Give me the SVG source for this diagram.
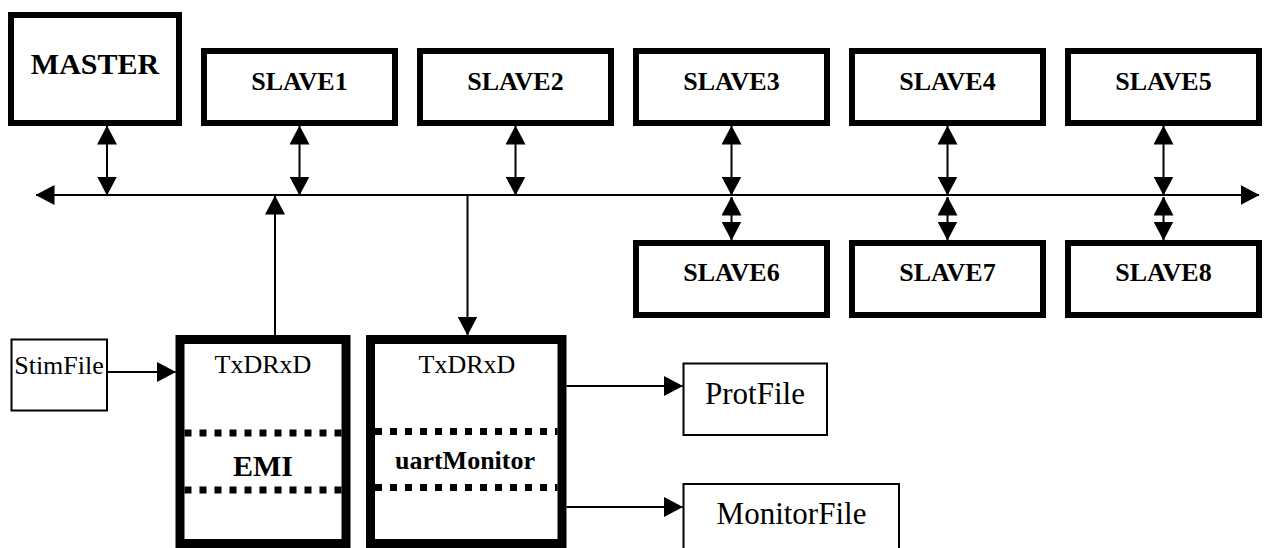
<svg xmlns="http://www.w3.org/2000/svg" width="1264" height="548" viewBox="0 0 1264 548">
  <style>
    .blk { fill: #fff; stroke: #000; stroke-width: 6; }
    .unit { fill: #fff; stroke: #000; stroke-width: 9; }
    .file { fill: #fff; stroke: #000; stroke-width: 2; }
    .sep { stroke: #000; stroke-width: 7; stroke-dasharray: 7 8; fill: none; }
    .wire { stroke: #000; stroke-width: 2; fill: none; }
    .lbl { font-family: "Liberation Serif", "Times New Roman", serif; text-anchor: middle; fill: #000; }
    .b26 { font-weight: bold; font-size: 26px; }
    .r26 { font-size: 26px; }
    .r31 { font-size: 31px; }
  </style>
  <defs>
    <marker id="head" viewBox="0 0 19 20" markerUnits="userSpaceOnUse" markerWidth="19" markerHeight="20" refX="18.5" refY="10" orient="auto-start-reverse">
      <path d="M0,0 L19,10 L0,20 Z" fill="#000"/>
    </marker>
  </defs>

  <rect width="1264" height="548" fill="#fff"/>

  <!-- bus and links -->
  <g id="connectors">
    <line class="wire" x1="36" y1="195" x2="1259" y2="195" marker-start="url(#head)" marker-end="url(#head)"/>
    <line class="wire" x1="107" y1="126" x2="107" y2="195" marker-start="url(#head)" marker-end="url(#head)"/>
    <line class="wire" x1="299.5" y1="126" x2="299.5" y2="195" marker-start="url(#head)" marker-end="url(#head)"/>
    <line class="wire" x1="515.5" y1="126" x2="515.5" y2="195" marker-start="url(#head)" marker-end="url(#head)"/>
    <line class="wire" x1="731.5" y1="126" x2="731.5" y2="195" marker-start="url(#head)" marker-end="url(#head)"/>
    <line class="wire" x1="947.5" y1="126" x2="947.5" y2="195" marker-start="url(#head)" marker-end="url(#head)"/>
    <line class="wire" x1="1163.5" y1="126" x2="1163.5" y2="195" marker-start="url(#head)" marker-end="url(#head)"/>
    <line class="wire" x1="731.5" y1="197" x2="731.5" y2="240" marker-start="url(#head)" marker-end="url(#head)"/>
    <line class="wire" x1="947.5" y1="197" x2="947.5" y2="240" marker-start="url(#head)" marker-end="url(#head)"/>
    <line class="wire" x1="1163.5" y1="197" x2="1163.5" y2="240" marker-start="url(#head)" marker-end="url(#head)"/>
    <line class="wire" x1="275" y1="335" x2="275" y2="196" marker-end="url(#head)"/>
    <line class="wire" x1="467.5" y1="195" x2="467.5" y2="335" marker-end="url(#head)"/>
    <line class="wire" x1="107" y1="372" x2="175.5" y2="372" marker-end="url(#head)"/>
    <line class="wire" x1="566.5" y1="386" x2="682.5" y2="386" marker-end="url(#head)"/>
    <line class="wire" x1="566.5" y1="507" x2="682.5" y2="507" marker-end="url(#head)"/>
  </g>

  <g id="master">
    <rect class="blk" x="11" y="15" width="168" height="108"/>
    <text class="lbl" x="95" y="74" font-weight="bold" font-size="30">MASTER</text>
  </g>
  <g id="slave1">
    <rect class="blk" x="204" y="51" width="191" height="72"/>
    <text class="lbl b26" x="299.5" y="90">SLAVE1</text>
  </g>
  <g id="slave2">
    <rect class="blk" x="420" y="51" width="191" height="72"/>
    <text class="lbl b26" x="515.5" y="90">SLAVE2</text>
  </g>
  <g id="slave3">
    <rect class="blk" x="636" y="51" width="191" height="72"/>
    <text class="lbl b26" x="731.5" y="90">SLAVE3</text>
  </g>
  <g id="slave4">
    <rect class="blk" x="852" y="51" width="191" height="72"/>
    <text class="lbl b26" x="947.5" y="90">SLAVE4</text>
  </g>
  <g id="slave5">
    <rect class="blk" x="1068" y="51" width="191" height="72"/>
    <text class="lbl b26" x="1163.5" y="90">SLAVE5</text>
  </g>
  <g id="slave6">
    <rect class="blk" x="636" y="243" width="191" height="72"/>
    <text class="lbl b26" x="731.5" y="281">SLAVE6</text>
  </g>
  <g id="slave7">
    <rect class="blk" x="852" y="243" width="191" height="72"/>
    <text class="lbl b26" x="947.5" y="281">SLAVE7</text>
  </g>
  <g id="slave8">
    <rect class="blk" x="1068" y="243" width="191" height="72"/>
    <text class="lbl b26" x="1163.5" y="281">SLAVE8</text>
  </g>

  <g id="stimfile">
    <rect class="file" x="11.5" y="339.5" width="95.5" height="71"/>
    <text class="lbl r26" x="59" y="374">StimFile</text>
  </g>

  <g id="emi">
    <rect class="unit" x="180" y="339.5" width="166" height="204"/>
    <line class="sep" x1="184.5" y1="433" x2="341.5" y2="433"/>
    <line class="sep" x1="184.5" y1="490" x2="341.5" y2="490"/>
    <text class="lbl r26" x="263" y="372.5">TxDRxD</text>
    <text class="lbl" x="263" y="476" font-weight="bold" font-size="30">EMI</text>
  </g>

  <g id="uartmonitor">
    <rect class="unit" x="370.5" y="339.5" width="191.5" height="204"/>
    <line class="sep" x1="375" y1="431.5" x2="557.5" y2="431.5"/>
    <line class="sep" x1="375" y1="487.5" x2="557.5" y2="487.5"/>
    <text class="lbl r26" x="467" y="372.5">TxDRxD</text>
    <text class="lbl b26" x="465" y="468.5">uartMonitor</text>
  </g>

  <g id="protfile">
    <rect class="file" x="683.5" y="363.5" width="143.5" height="71.5"/>
    <text class="lbl r31" x="755" y="403.5">ProtFile</text>
  </g>

  <g id="monitorfile">
    <rect class="file" x="683.5" y="484" width="215.5" height="80"/>
    <text class="lbl r31" x="791.5" y="523.5">MonitorFile</text>
  </g>
</svg>
